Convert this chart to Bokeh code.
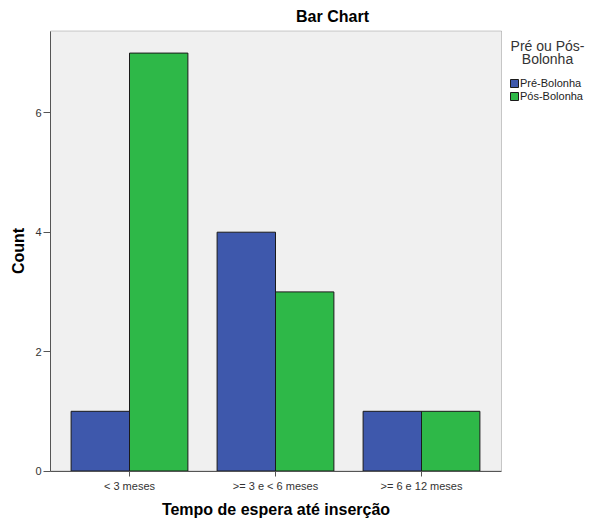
from bokeh.plotting import figure
from bokeh.models import (ColumnDataSource, Range1d, Legend, LegendItem,
                          Label, FixedTicker, BoxAnnotation)
from bokeh.transform import dodge
from bokeh.embed import file_html
from bokeh.resources import INLINE

# ---- data ----
categories = ["< 3 meses", ">= 3 e < 6 meses", ">= 6 e 12 meses"]
pre_bolonha = [1, 4, 1]
pos_bolonha = [7, 3, 1]
series_names = ["Pré-Bolonha", "Pós-Bolonha"]
y_ticks = [0, 2, 4, 6]
legend_title_lines = ["Pré ou Pós-", "Bolonha"]
chart_title = "Bar Chart"
x_label = "Tempo de espera até inserção"
y_label = "Count"

# ---- layout / style ----
FONT = "Liberation Sans"
BLUE = "#3E58AC"
GREEN = "#2EB848"
W, H = 590, 520
BOX_L, BOX_R, BOX_T, BOX_B = 50, 501, 30.5, 470.5   # plotting box in canvas px
CAT_PX = 146.0                                      # pixels per category
Y_TOP = 7.37                                        # value at top of plotting box
x_pos = list(range(1, len(categories) + 1))
x_box_lo = x_pos[0] - 79 / CAT_PX
x_box_hi = x_box_lo + (BOX_R - BOX_L) / CAT_PX
x_start = x_box_lo - BOX_L / CAT_PX
x_end = x_start + W / CAT_PX
PX_PER_Y = (BOX_B - BOX_T) / Y_TOP
y_start = -(H - BOX_B) / PX_PER_Y
y_end = Y_TOP + BOX_T / PX_PER_Y

src = ColumnDataSource(dict(x=x_pos, pre=pre_bolonha, pos=pos_bolonha))

p = figure(
    x_range=Range1d(x_start, x_end), y_range=Range1d(y_start, y_end),
    width=W, height=H, title=None,
    output_backend="svg", toolbar_location=None,
    min_border=0, min_border_left=0, min_border_right=0,
    min_border_top=0, min_border_bottom=0,
)
p.outline_line_color = None
p.background_fill_color = "white"
p.border_fill_color = "white"
p.xgrid.visible = False
p.ygrid.visible = False

# plotting box
p.add_layout(BoxAnnotation(left=x_box_lo, right=x_box_hi, bottom=0, top=Y_TOP,
                           fill_color="#F0F0F0", fill_alpha=1,
                           line_color="#555555", line_width=1, level="underlay"))

r1 = p.vbar(x=dodge("x", -0.2), top="pre", width=0.4, source=src,
            fill_color=BLUE, line_color="#1a1a1a", line_width=1)
r2 = p.vbar(x=dodge("x", 0.2), top="pos", width=0.4, source=src,
            fill_color=GREEN, line_color="#1a1a1a", line_width=1)

# axes (drawn at fixed positions inside the canvas)
for ax in (p.xaxis[0], p.yaxis[0]):
    ax.axis_line_color = "#555555"
    ax.major_tick_line_color = "#555555"
    ax.major_tick_in = 0
    ax.minor_tick_line_color = None
    ax.major_label_text_font = FONT
    ax.major_label_text_font_size = "11px"
    ax.major_label_text_color = "#333333"

p.yaxis[0].ticker = FixedTicker(ticks=y_ticks)
p.yaxis[0].bounds = (0, Y_TOP)
p.yaxis[0].fixed_location = x_box_lo
p.yaxis[0].major_tick_out = 7
p.yaxis[0].major_label_standoff = 2
p.yaxis[0].major_label_orientation = "horizontal"

p.xaxis[0].ticker = FixedTicker(ticks=x_pos)
p.xaxis[0].major_label_overrides = {x: c for x, c in zip(x_pos, categories)}
p.xaxis[0].bounds = (x_box_lo, x_box_hi)
p.xaxis[0].fixed_location = 0
p.xaxis[0].major_tick_out = 5
p.xaxis[0].major_label_standoff = 4

def screen_label(text, x, y, size, bold=False, align="center", baseline="middle",
                 color="black", angle=0):
    return Label(x=x, y=H - y, x_units="screen", y_units="screen", text=text,
                 text_align=align, text_baseline=baseline, angle=angle, angle_units="deg",
                 text_font=FONT, text_font_size=size,
                 text_font_style="bold" if bold else "normal", text_color=color)

# title and axis titles
p.add_layout(screen_label(chart_title, 332, 15.5, "16px", bold=True))
p.add_layout(screen_label(x_label, (BOX_L + BOX_R) / 2, 509, "16px", bold=True))
p.add_layout(screen_label(y_label, 18, (BOX_T + BOX_B) / 2, "16px", bold=True, angle=90))

# legend
legend = Legend(
    items=[LegendItem(label=series_names[0], renderers=[r1]),
           LegendItem(label=series_names[1], renderers=[r2])],
    location=(509, H - 101.5), padding=0, margin=0, spacing=1,
    glyph_width=10, glyph_height=10, label_height=10, label_standoff=1,
    label_text_font=FONT, label_text_font_size="11px", label_text_color="#222222",
    border_line_color=None, background_fill_alpha=0,
)
p.add_layout(legend, "center")

for i, line in enumerate(legend_title_lines):
    p.add_layout(screen_label(line, 547, 45 + 13 * i, "14px", color="#333333"))

open("out.html", "w").write(file_html(p, INLINE))
